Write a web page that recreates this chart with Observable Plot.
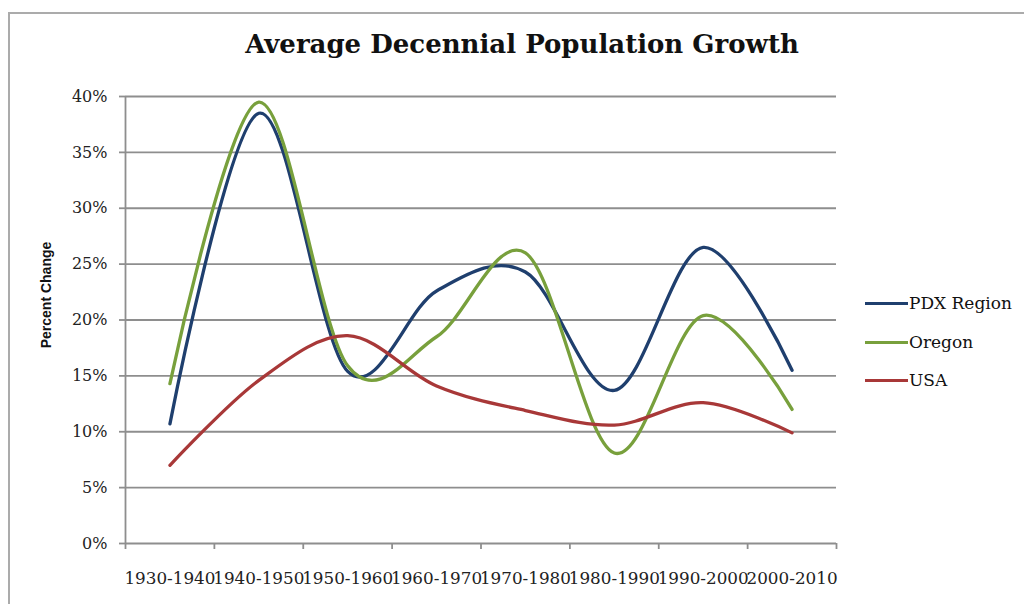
<!DOCTYPE html>
<html>
<head>
<meta charset="utf-8">
<script src="https://cdn.jsdelivr.net/npm/d3@7"></script>
<script src="https://cdn.jsdelivr.net/npm/@observablehq/plot@0.6"></script>
<style>
  body { margin: 0; background: #fff; }
  #wrap { position: relative; width: 1024px; height: 604px; overflow: hidden; background: #fff; }
  #chart { position: absolute; left: 0; top: 0; }
  #frame { position: absolute; left: 8px; top: 12px; width: 1040px; height: 620px; border: 2px solid #ababab; pointer-events: none; }
  #title { position: absolute; left: 0; top: 31px; width: 1044px; text-align: center; font: bold 26px/26px "DejaVu Serif", serif; color: #111; white-space: nowrap; }
  #ylabel { position: absolute; left: 46px; top: 295px; transform: translate(-50%, -50%) rotate(-90deg); font: bold 14px "Liberation Sans", Arial, sans-serif; color: #111; white-space: nowrap; }
  .leg { position: absolute; left: 865px; height: 20px; display: flex; align-items: center; font: 17px "DejaVu Serif", serif; color: #111; white-space: nowrap; }
  .leg .sw { width: 43px; height: 3px; margin-right: 1px; }
</style>
</head>
<body>
<div id="wrap">
  <div id="chart"></div>
  <div id="title">Average Decennial Population Growth</div>
  <div id="ylabel">Percent Change</div>
  <div id="legend"></div>
  <div id="frame"></div>
</div>
<script>
const categories = ["1930-1940", "1940-1950", "1950-1960", "1960-1970", "1970-1980", "1980-1990", "1990-2000", "2000-2010"];
const seriesNames = ["PDX Region", "Oregon", "USA"];
const seriesColors = ["#1f3f6e", "#78a03c", "#a83838"];
const pdxRegion = [10.7, 38.5, 15.4, 22.6, 24.3, 13.7, 26.5, 15.5];
const oregon = [14.3, 39.5, 15.9, 18.5, 26.0, 8.1, 20.4, 12.0];
const usa = [7.0, 14.6, 18.6, 14.1, 11.9, 10.6, 12.6, 9.9];
const yTicks = [0, 5, 10, 15, 20, 25, 30, 35, 40];

const seriesValues = [pdxRegion, oregon, usa];
const data = [];
seriesNames.forEach((s, k) => {
  seriesValues[k].forEach((v, i) => data.push({series: s, idx: i + 0.5, category: categories[i], value: v}));
});

const boundaries = d3.range(categories.length + 1);
const centers = categories.map((c, i) => i + 0.5);

const chart = Plot.plot({
  width: 1024,
  height: 604,
  marginLeft: 125,
  marginRight: 188,
  marginTop: 96,
  marginBottom: 61,
  style: {fontFamily: "DejaVu Serif, serif", fontSize: "16px", background: "transparent", color: "#222", overflow: "visible"},
  x: {type: "linear", domain: [0, categories.length]},
  y: {domain: [0, 40]},
  color: {domain: seriesNames, range: seriesColors},
  marks: [
    Plot.ruleY(yTicks.filter(d => d > 0), {stroke: "#8e8e8e", strokeWidth: 1.8}),
    Plot.ruleY([0], {stroke: "#8e8e8e", strokeWidth: 1.8}),
    Plot.ruleX([0], {y1: 0, y2: 40, stroke: "#8e8e8e", strokeWidth: 1.8}),
    Plot.axisY({ticks: yTicks, tickFormat: d => d + "%", tickSize: 6, tickPadding: 12, label: null, stroke: "#8e8e8e", strokeWidth: 1.8, strokeOpacity: 1}),
    Plot.axisX({ticks: boundaries, tickFormat: () => "", tickSize: 6, label: null, stroke: "#8e8e8e", strokeWidth: 1.8, strokeOpacity: 1}),
    Plot.axisX({ticks: centers, tickFormat: d => categories[Math.round(d - 0.5)], tickSize: 0, tickPadding: 29, label: null, fontSize: 16.8}),
    Plot.line(data, {x: "idx", y: "value", z: "series", stroke: "series", strokeWidth: 3.3, curve: "cardinal", tension: 0})
  ]
});
document.getElementById("chart").appendChild(chart);

const legend = document.getElementById("legend");
const legendTops = [293, 332, 370];
seriesNames.forEach((s, k) => {
  const row = document.createElement("div");
  row.className = "leg";
  row.style.top = legendTops[k] + "px";
  const sw = document.createElement("span");
  sw.className = "sw";
  sw.style.background = seriesColors[k];
  const t = document.createElement("span");
  t.textContent = s;
  row.appendChild(sw);
  row.appendChild(t);
  legend.appendChild(row);
});
</script>
</body>
</html>
